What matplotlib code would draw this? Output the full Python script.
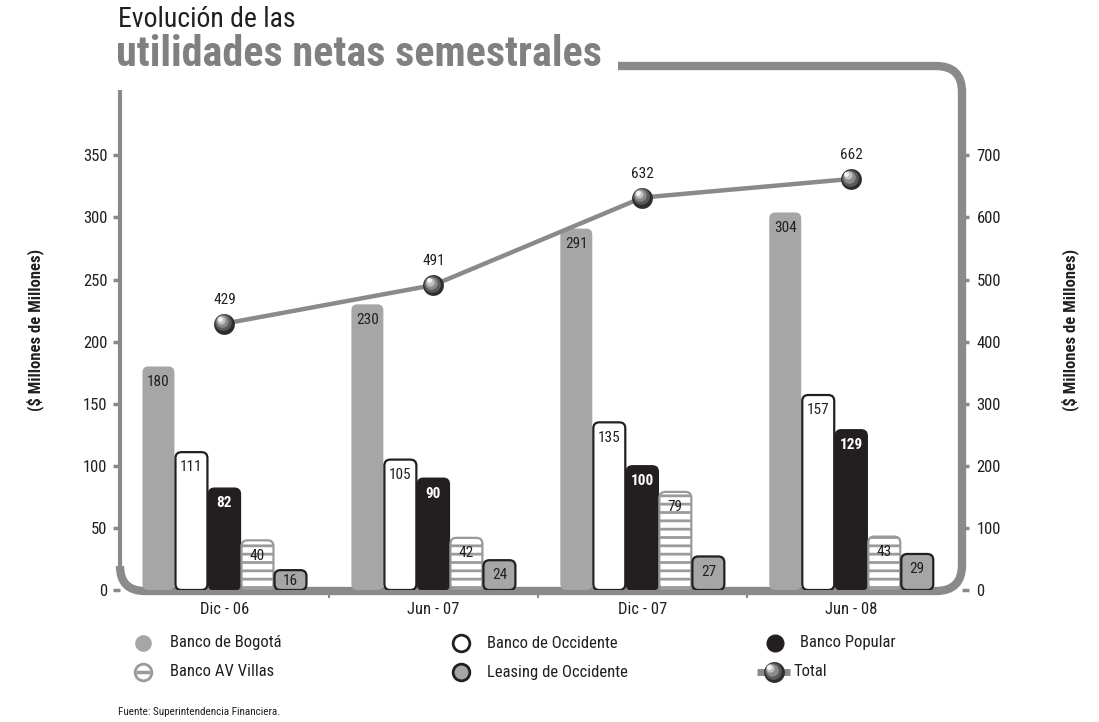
import numpy as np
import matplotlib.pyplot as plt
from matplotlib.patches import FancyBboxPatch, PathPatch
from matplotlib.path import Path
import matplotlib.transforms as mtransforms

plt.rcParams['font.family'] = ['Roboto Condensed', 'DejaVu Sans']
plt.rcParams['hatch.linewidth'] = 2.0

# data
periods = ['Dic - 06', 'Jun - 07', 'Dic - 07', 'Jun - 08']
bogota = [180, 230, 291, 304]
occidente = [111, 105, 135, 157]
popular = [82, 90, 100, 129]
av_villas = [40, 42, 79, 43]
leasing = [16, 24, 27, 29]
total = [429, 491, 632, 662]

W, H = 1099, 722
fig = plt.figure(figsize=(W / 100, H / 100), dpi=100)

frame_col = '#8a8a8a'
dark = '#231f20'

ax = fig.add_axes([120 / W, 1 - 590 / H, 842 / W, 500 / H])
ax.set_xlim(-0.5, 3.53)
ax.set_ylim(0, 402.6)
ax2 = ax.twinx()
ax2.set_ylim(0, 805.2)
for a in (ax, ax2):
    for s in a.spines.values():
        s.set_visible(False)
    a.patch.set_visible(False)

x = np.arange(len(periods))
bw = 0.153
step = 0.158

series = [
    (bogota, dict(facecolor='#a6a6a6', edgecolor='none', lw=0), dark, 'normal'),
    (occidente, dict(facecolor='white', edgecolor=dark, lw=1.6), dark, 'normal'),
    (popular, dict(facecolor=dark, edgecolor=dark, lw=1.0), 'white', 'bold'),
    (av_villas, dict(facecolor='white', edgecolor='#9a9a9a', lw=1.6, hatch='--'), dark, 'normal'),
    (leasing, dict(facecolor='#a6a6a6', edgecolor=dark, lw=1.6), dark, 'normal'),
]

# pixel scales, used for the rounded bar corners
p0 = ax.transData.transform((0, 0))
px_x = ax.transData.transform((1, 0))[0] - p0[0]
px_y = ax.transData.transform((0, 1))[1] - p0[1]
aspect = (1 / px_y) / (1 / px_x)
rad = 6 / px_x

for i, (vals, st, tcol, tw) in enumerate(series):
    bars = ax.bar(x + (i - 2) * step, vals, bw)
    for b, v in zip(bars, vals):
        bx, by = b.get_xy()
        b.set_visible(False)
        fp = FancyBboxPatch((bx, by), b.get_width(), b.get_height(),
                            boxstyle='round,pad=0,rounding_size=%f' % rad,
                            mutation_aspect=aspect, zorder=3, **st)
        ax.add_patch(fp)
        off = -min(11, v * px_y * 0.72 / 2 + 1)
        ax.annotate(str(v), (bx + b.get_width() / 2, v), xytext=(0, off),
                    textcoords='offset points', ha='center', va='center',
                    fontsize=11, color=tcol, fontweight=tw, zorder=4)

# total line with sphere markers
ax2.plot(x, total, color=frame_col, lw=3.2, zorder=5)
sizes = [15, 12, 9, 6, 3.5]
cols = ['#2e2e2e', '#5a5a5a', '#8a8a8a', '#c0c0c0', '#f4f4f4']
for k, (ms, c) in enumerate(zip(sizes, cols)):
    off = mtransforms.ScaledTranslation(-0.012 * k, 0.012 * k, fig.dpi_scale_trans)
    ax2.plot(x, total, 'o', ms=ms, color=c, mec='none', zorder=6 + k,
             transform=ax2.transData + off)
for xi, t in zip(x, total):
    ax2.annotate(str(t), (xi, t), xytext=(0, 17), textcoords='offset points',
                 ha='center', va='center', fontsize=11, color=dark)

# ticks
ax.set_yticks(np.arange(0, 351, 50))
ax2.set_yticks(np.arange(0, 701, 100))
ax.tick_params(axis='y', length=5, width=2.5, color=frame_col, labelsize=12,
               labelcolor=dark, pad=4)
ax2.tick_params(axis='y', length=5, width=2.5, color=frame_col, labelsize=12,
                labelcolor=dark, pad=5.5)
ax.set_xticks(x)
ax.set_xticklabels(periods)
ax.set_xticks(x[:-1] + 0.5, minor=True)
ax.tick_params(axis='x', which='major', length=0, labelsize=12, labelcolor=dark, pad=9)
ax.tick_params(axis='x', which='minor', length=6, width=1.5, color=frame_col)

fig.text(35 / W, 1 - 330 / H, '($ Millones de Millones)', rotation=90, ha='center',
         va='center', fontsize=12, fontweight='bold', color=dark)
fig.text(1070 / W, 1 - 330 / H, '($ Millones de Millones)', rotation=90, ha='center',
         va='center', fontsize=12, fontweight='bold', color=dark)

# rounded gray frame (figure pixels), drawn behind the axes
def fp_(px, py):
    return (px / W, 1 - py / H)

left_part = [fp_(120, 90), fp_(120, 566)]
verts = [fp_(120, 566), fp_(120, 591), fp_(145, 591),
         fp_(936, 591), fp_(962, 591), fp_(962, 565),
         fp_(962, 92), fp_(962, 66), fp_(936, 66), fp_(618, 66)]
codes = [Path.MOVETO, Path.CURVE3, Path.CURVE3,
         Path.LINETO, Path.CURVE3, Path.CURVE3,
         Path.LINETO, Path.CURVE3, Path.CURVE3, Path.LINETO]
fig.patches.append(PathPatch(Path(left_part), transform=fig.transFigure,
                             fill=False, edgecolor=frame_col, lw=3, zorder=-2,
                             capstyle='butt'))
fig.patches.append(PathPatch(Path(verts, codes), transform=fig.transFigure,
                             fill=False, edgecolor=frame_col, lw=6, zorder=-2,
                             capstyle='butt'))

# titles
fig.text(118 / W, 1 - 27 / H, 'Evolución de las', ha='left', va='baseline',
         fontsize=20, color=dark)
fig.text(116 / W, 1 - 66 / H, 'utilidades netas semestrales', ha='left', va='baseline',
         fontsize=30.3, fontweight='bold', color='#808080')

# legend on an overlay axes in pixel units
lg = fig.add_axes([0, 0, 1, 1], zorder=-1)
lg.set_xlim(0, W)
lg.set_ylim(H, 0)
lg.axis('off')
ms = 12
lg.plot(143, 643, 'o', ms=ms, color='#a6a6a6', mec='none')
lg.plot(461, 643, 'o', ms=ms, mfc='white', mec=dark, mew=2)
lg.plot(775, 643, 'o', ms=ms, color=dark, mec=dark)
lg.plot(143, 672, 'o', ms=ms, mfc='white', mec='#9a9a9a', mew=2)
lg.plot([136, 150], [672, 672], color='#9a9a9a', lw=2.5, solid_capstyle='butt')
lg.plot(461, 672, 'o', ms=ms, mfc='#a6a6a6', mec=dark, mew=2)
lg.plot([757, 790], [672, 672], color=frame_col, lw=5, solid_capstyle='butt')
for k, (m, c) in enumerate(zip(sizes, cols)):
    lg.plot(774 - 1.2 * k, 672 - 1.2 * k, 'o', ms=m, color=c, mec='none')
leg_items = [(170, 643, 'Banco de Bogotá'), (487, 643, 'Banco de Occidente'),
             (800, 643, 'Banco Popular'), (170, 672, 'Banco AV Villas'),
             (487, 672, 'Leasing de Occidente'), (793, 672, 'Total')]
for tx, ty, s in leg_items:
    lg.text(tx, ty, s, ha='left', va='center', fontsize=12, color=dark)

fig.text(118 / W, 1 - 712 / H, 'Fuente: Superintendencia Financiera.', ha='left',
         va='center', fontsize=8, color=dark)

fig.savefig('out.png', dpi=100, facecolor='white')
